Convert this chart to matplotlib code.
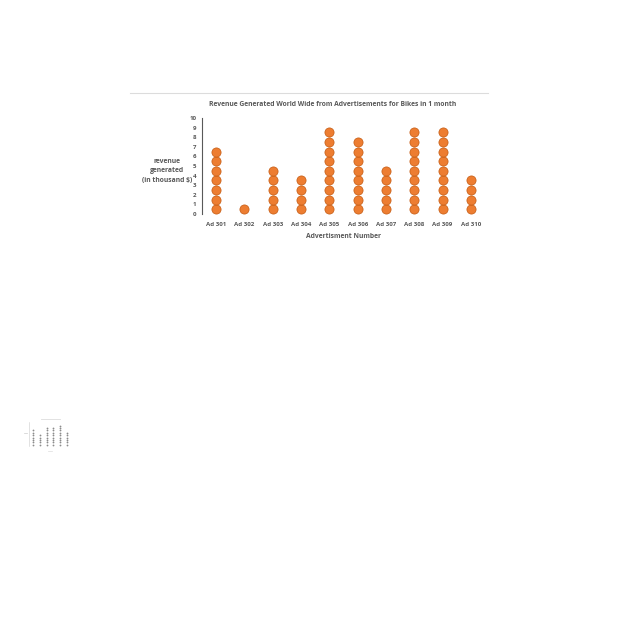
import numpy as np
import matplotlib.pyplot as plt
from matplotlib.lines import Line2D

# --- data ---
ads = ["Ad 301", "Ad 302", "Ad 303", "Ad 304", "Ad 305",
       "Ad 306", "Ad 307", "Ad 308", "Ad 309", "Ad 310"]
revenue = [7, 1, 5, 4, 9, 8, 5, 9, 9, 4]   # thousand $ (one dot = 1)
y_ticks = list(range(0, 11))

# small thumbnail copy in the lower left corner
thumb_counts = [7, 5, 8, 8, 9, 6]

ORANGE = "#ED7D31"
EDGE = "#C55A11"
GREY = "#595959"

plt.rcParams['font.family'] = ['Open Sans', 'DejaVu Sans']

fig = plt.figure(figsize=(6.4, 6.4), dpi=100)

# faint border line above the chart
fig.add_artist(Line2D([130 / 640, 488 / 640], [1 - 93 / 640, 1 - 93 / 640],
                      color="#dcdcdc", lw=0.8))

ax = fig.add_axes([202 / 640, 1 - 214 / 640, 283 / 640, 96 / 640])
for i, n in enumerate(revenue):
    ys = np.arange(n) + 0.5
    ax.plot([i] * n, ys, linestyle="none", marker="o", markersize=6.6,
            markerfacecolor=ORANGE, markeredgecolor=EDGE, markeredgewidth=0.5)

ax.set_xlim(-0.5, len(ads) - 0.5)
ax.set_ylim(0, 10)
ax.set_xticks(range(len(ads)))
ax.set_xticklabels(ads, fontsize=4.4, fontweight="bold", color=GREY)
ax.set_yticks(y_ticks)
ax.set_yticklabels([str(t) for t in y_ticks], fontsize=4.4, fontweight="bold", color=GREY)
ax.tick_params(axis="x", length=0, pad=6)
ax.tick_params(axis="y", length=0, pad=4)
for s in ["top", "right", "bottom"]:
    ax.spines[s].set_visible(False)
ax.spines["left"].set_color(GREY)
ax.spines["left"].set_linewidth(0.8)

ax.text(0.463, 1.14, "Revenue Generated World Wide from Advertisements for Bikes in 1 month",
        transform=ax.transAxes, ha="center", va="center",
        fontsize=4.9, fontweight="bold", color=GREY)
ax.set_xlabel("Advertisment Number", fontsize=4.9, fontweight="bold", color=GREY, labelpad=4)
ax.set_ylabel("revenue\ngenerated\n(in thousand $)", fontsize=4.9, fontweight="bold",
              color=GREY, rotation=0, ha="center", va="center", labelpad=0,
              linespacing=1.5)
ax.yaxis.set_label_coords(-0.125, 0.45)

# tiny thumbnail
tax = fig.add_axes([29 / 640, 1 - 446 / 640, 42 / 640, 24 / 640])
for i, n in enumerate(thumb_counts):
    tax.plot([i] * n, np.arange(n) + 0.5, linestyle="none", marker="o",
             markersize=1.3, markerfacecolor="#8c8c8c", markeredgewidth=0)
tax.set_xlim(-0.6, len(thumb_counts) - 0.4)
tax.set_ylim(0, 10)
tax.set_xticks([])
tax.set_yticks([])
for s in ["top", "right", "bottom"]:
    tax.spines[s].set_visible(False)
tax.spines["left"].set_color("#cccccc")
tax.spines["left"].set_linewidth(0.4)
fig.add_artist(Line2D([41 / 640, 60 / 640], [1 - 419 / 640, 1 - 419 / 640],
                      color="#dddddd", lw=0.6))
fig.add_artist(Line2D([24 / 640, 27 / 640], [1 - 433 / 640, 1 - 433 / 640],
                      color="#cccccc", lw=0.5))
fig.add_artist(Line2D([48 / 640, 52 / 640], [1 - 451 / 640, 1 - 451 / 640],
                      color="#dddddd", lw=0.5))

fig.savefig("out.png", dpi=100, facecolor="white")
